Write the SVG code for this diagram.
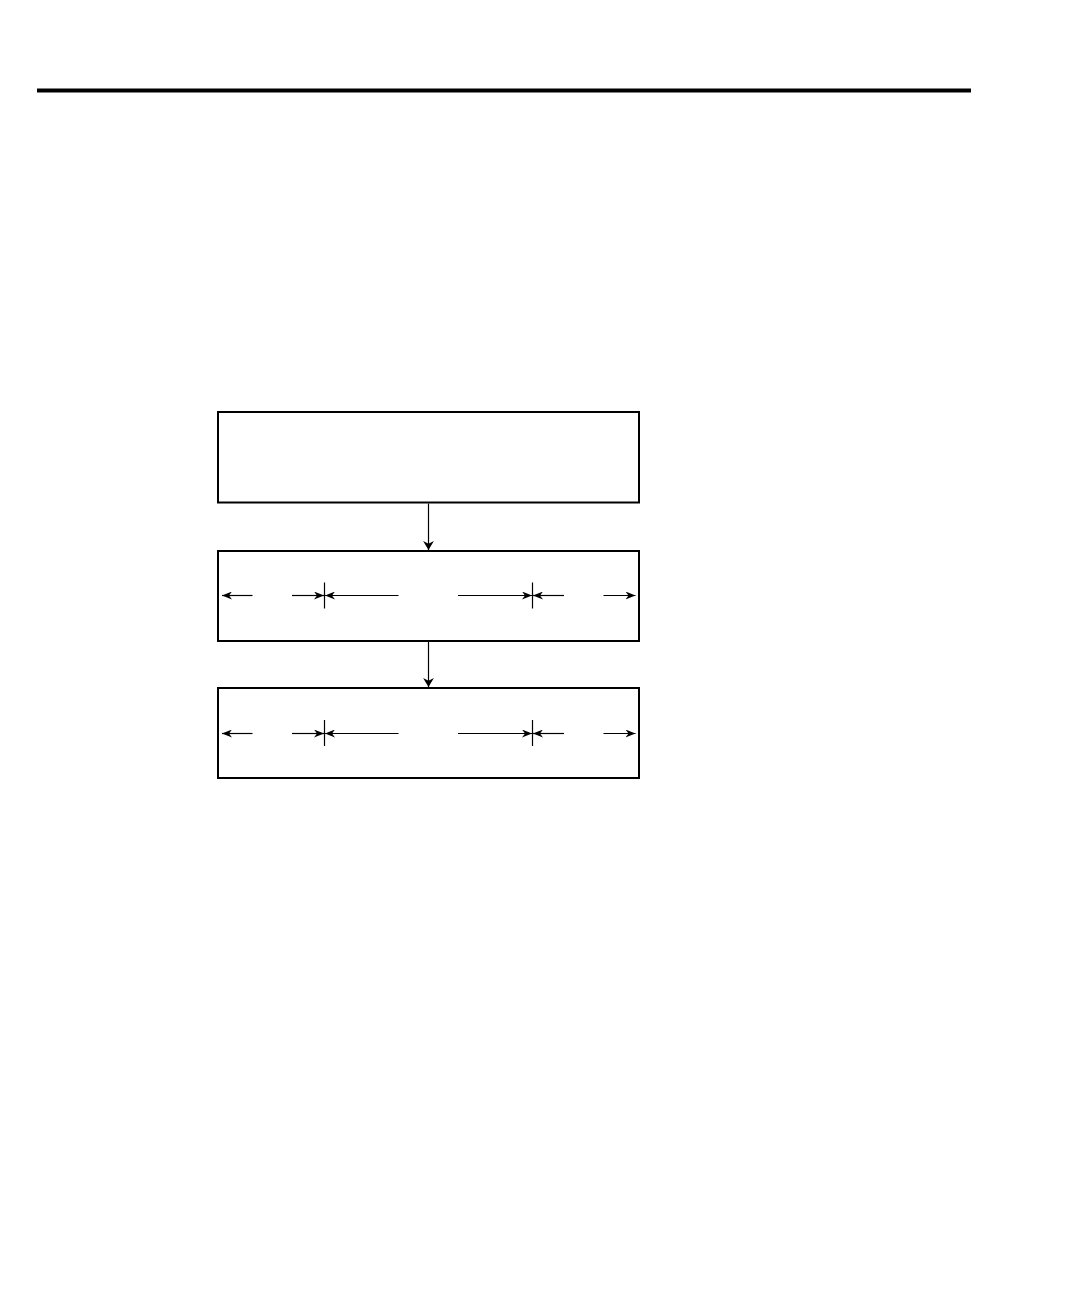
<svg xmlns="http://www.w3.org/2000/svg" width="1080" height="1298" viewBox="0 0 1080 1298">
<style>
.box{fill:#fff;stroke:#000;stroke-width:2}
.ln{stroke:#000;stroke-width:1.2;fill:none}
.tick{stroke:#000;stroke-width:1.2}
</style>
<defs>
<marker id="ah" viewBox="0 0 10 8" refX="10" refY="4" markerWidth="10" markerHeight="8" markerUnits="userSpaceOnUse" orient="auto">
<path d="M0,0 L10,4 L0,8 L3,4 Z" fill="#000"/>
</marker>
<marker id="ahBig" viewBox="0 0 10 12" refX="10" refY="6" markerWidth="9" markerHeight="11" markerUnits="userSpaceOnUse" orient="auto">
<path d="M0,0 L10,6 L0,12 L3,6 Z" fill="#000"/>
</marker>
</defs>
<rect width="1080" height="1298" fill="#fff"/>
<line x1="37" y1="90.5" x2="971" y2="90.5" stroke="#000" stroke-width="4"/>
<g id="node1"><rect class="box" x="218" y="412" width="421" height="90.5"/></g>
<g id="node2">
<rect class="box" x="218" y="551" width="421" height="90"/>
<line class="tick" x1="324.5" y1="582.5" x2="324.5" y2="608.5"/>
<line class="tick" x1="532.5" y1="582.5" x2="532.5" y2="608.5"/>
<line class="ln" x1="252.5" y1="595.5" x2="222" y2="595.5" marker-end="url(#ah)"/>
<line class="ln" x1="292" y1="595.5" x2="324" y2="595.5" marker-end="url(#ah)"/>
<line class="ln" x1="398.5" y1="595.5" x2="325" y2="595.5" marker-end="url(#ah)"/>
<line class="ln" x1="458" y1="595.5" x2="532" y2="595.5" marker-end="url(#ah)"/>
<line class="ln" x1="564" y1="595.5" x2="533" y2="595.5" marker-end="url(#ah)"/>
<line class="ln" x1="603.5" y1="595.5" x2="635.5" y2="595.5" marker-end="url(#ah)"/>
</g>
<g id="node3">
<rect class="box" x="218" y="688" width="421" height="90"/>
<line class="tick" x1="324.5" y1="720" x2="324.5" y2="746"/>
<line class="tick" x1="532.5" y1="720" x2="532.5" y2="746"/>
<line class="ln" x1="252.5" y1="733.5" x2="222" y2="733.5" marker-end="url(#ah)"/>
<line class="ln" x1="292" y1="733.5" x2="324" y2="733.5" marker-end="url(#ah)"/>
<line class="ln" x1="398.5" y1="733.5" x2="325" y2="733.5" marker-end="url(#ah)"/>
<line class="ln" x1="458" y1="733.5" x2="532" y2="733.5" marker-end="url(#ah)"/>
<line class="ln" x1="564" y1="733.5" x2="533" y2="733.5" marker-end="url(#ah)"/>
<line class="ln" x1="603.5" y1="733.5" x2="635.5" y2="733.5" marker-end="url(#ah)"/>
</g>
<g id="connectors">
<line class="ln" x1="428.5" y1="503.5" x2="428.5" y2="550" marker-end="url(#ahBig)"/>
<line class="ln" x1="428.5" y1="642" x2="428.5" y2="687" marker-end="url(#ahBig)"/>
</g>
</svg>
